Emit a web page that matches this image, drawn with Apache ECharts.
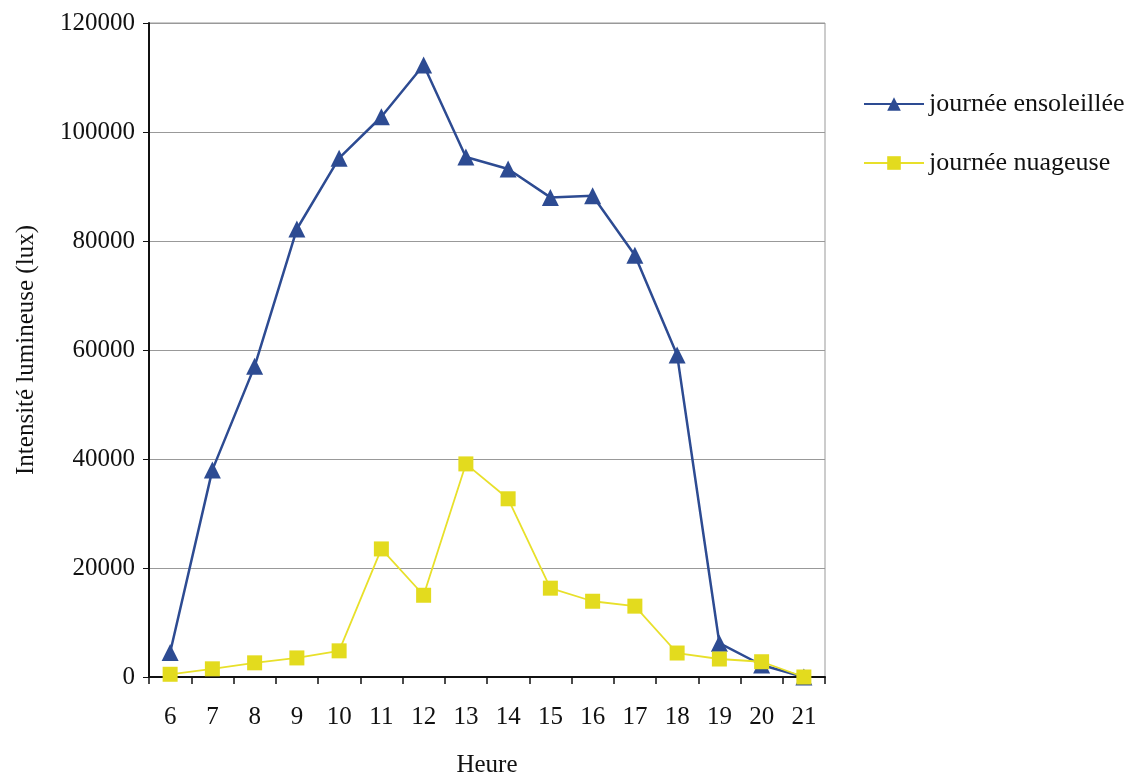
<!DOCTYPE html>
<html>
<head>
<meta charset="utf-8">
<script src="https://cdn.jsdelivr.net/npm/echarts@6/dist/echarts.min.js"></script>
<style>
html,body{margin:0;padding:0;background:#fff;}
#chart{width:1136px;height:781px;}
</style>
</head>
<body>
<div id="chart"></div>
<script>
const hours = ['6','7','8','9','10','11','12','13','14','15','16','17','18','19','20','21'];
const sunny = [4500, 38000, 57000, 82200, 95200, 102800, 112300, 95400, 93200, 88000, 88300, 77400, 59100, 6200, 2200, 0];
const cloudy = [500, 1500, 2600, 3500, 4800, 23500, 15000, 39100, 32700, 16300, 13900, 13000, 4400, 3300, 2800, 0];
const yTicks = [0, 20000, 40000, 60000, 80000, 100000, 120000];
const seriesNames = ['journée ensoleillée', 'journée nuageuse'];

const serif = '"Liberation Serif", "DejaVu Serif", serif';
const chart = echarts.init(document.getElementById('chart'));
chart.setOption({
  animation: false,
  backgroundColor: '#fff',
  grid: {left: 149, right: 311, top: 23, bottom: 104, show: true, borderColor: '#999', borderWidth: 1,
         containLabel: false, outerBoundsMode: 'none'},
  legend: {
    orient: 'vertical', left: 858, top: 86, itemGap: 33, itemWidth: 60, itemHeight: 17,
    textStyle: {fontFamily: serif, fontSize: 26, color: '#111'},
    data: seriesNames
  },
  xAxis: {
    type: 'category', data: hours, boundaryGap: true,
    name: 'Heure', nameLocation: 'middle', nameGap: 76,
    nameTextStyle: {fontFamily: serif, fontSize: 25, color: '#111'},
    axisLine: {lineStyle: {color: '#111', width: 2}},
    axisTick: {show: true, alignWithLabel: false, length: 7, lineStyle: {color: '#111', width: 1.5}},
    axisLabel: {fontFamily: serif, fontSize: 25, color: '#111', margin: 28}
  },
  yAxis: {
    type: 'value', min: 0, max: 120000, interval: 20000,
    name: 'Intensité lumineuse (lux)', nameLocation: 'middle', nameGap: 110, nameRotate: 90,
    nameTextStyle: {fontFamily: serif, fontSize: 25, color: '#111'},
    axisLine: {show: true, lineStyle: {color: '#111', width: 2}},
    axisTick: {show: true, length: 6, lineStyle: {color: '#111'}},
    axisLabel: {fontFamily: serif, fontSize: 25, color: '#111', margin: 14,
      formatter: v => yTicks.includes(v) ? String(v) : ''},
    splitLine: {lineStyle: {color: '#999', width: 1}}
  },
  series: [
    {
      name: seriesNames[0], type: 'line', data: sunny,
      symbol: 'triangle', symbolSize: 17,
      lineStyle: {color: '#2d4b92', width: 2.5},
      itemStyle: {color: '#2d4b92'},
      z: 2
    },
    {
      name: seriesNames[1], type: 'line', data: cloudy,
      symbol: 'rect', symbolSize: 15,
      lineStyle: {color: '#e8e02a', width: 1.8},
      itemStyle: {color: '#e3db1e'},
      z: 3
    }
  ]
});
</script>
</body>
</html>
